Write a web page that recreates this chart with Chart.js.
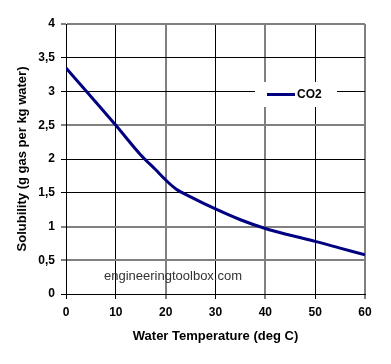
<!DOCTYPE html>
<html>
<head>
<meta charset="utf-8">
<script src="https://cdn.jsdelivr.net/npm/chart.js@4"></script>
<style>
  html, body { margin: 0; padding: 0; background: #fff; }
  #wrap { width: 391px; height: 364px; position: relative; }
</style>
</head>
<body>
<div id="wrap"><canvas id="chart"></canvas></div>
<script>
// Water temperature (deg C) and CO2 solubility (g gas per kg water)
const temps = [0, 10, 15, 18, 20, 22, 25, 30, 35, 40, 45, 50, 55, 60];
const co2 = [3.35, 2.50, 2.06, 1.84, 1.69, 1.56, 1.44, 1.26, 1.10, 0.97, 0.87, 0.78, 0.68, 0.58];
const seriesName = 'CO2';
const watermark = 'engineeringtoolbox.com';

const FONT = '"Liberation Sans", Arial, sans-serif';

// some grid lines in the original come out heavier/grey
const greyX = [20, 40, 60];
const greyY = [0.5, 1, 2.5, 4];

function gridColor(list) {
    return ctx => (ctx.tick && list.includes(ctx.tick.value)) ? '#808080' : '#000000';
}
function gridWidth(list) {
    return ctx => (ctx.tick && list.includes(ctx.tick.value)) ? 2 : 1;
}

// legend box + watermark drawn over the plot
const overlay = {
    id: 'overlay',
    afterDatasetsDraw(chart) {
        const ctx = chart.ctx;
        const ds = chart.data.datasets[0];
        ctx.save();
        ctx.fillStyle = '#ffffff';
        ctx.fillRect(255, 82, 82, 25);
        ctx.strokeStyle = ds.borderColor;
        ctx.lineWidth = 3;
        ctx.beginPath();
        ctx.moveTo(267, 94.5);
        ctx.lineTo(295, 94.5);
        ctx.stroke();
        ctx.fillStyle = '#000';
        ctx.font = 'bold 12px ' + FONT;
        ctx.textBaseline = 'middle';
        ctx.fillText(ds.label, 297, 95);

        ctx.font = '13px ' + FONT;
        ctx.fillStyle = '#333';
        ctx.textBaseline = 'alphabetic';
        ctx.fillText(watermark, 104, 280);
        ctx.restore();
    }
};

new Chart(document.getElementById('chart').getContext('2d'), {
    type: 'line',
    data: {
        datasets: [{
            label: seriesName,
            data: temps.map((t, i) => ({ x: t, y: co2[i] })),
            borderColor: '#000080',
            borderWidth: 3,
            pointRadius: 0,
            fill: false,
            cubicInterpolationMode: 'monotone'
        }]
    },
    options: {
        responsive: true,
        maintainAspectRatio: false,
        animation: false,
        layout: { padding: { left: 0, right: 26, top: 24, bottom: 0 } },
        plugins: {
            legend: { display: false },
            tooltip: { enabled: false }
        },
        scales: {
            x: {
                type: 'linear',
                min: 0,
                max: 60,
                afterFit: s => { s.height = 70; },
                ticks: {
                    stepSize: 10,
                    padding: 6,
                    color: '#000',
                    font: { family: FONT, size: 12, weight: 'bold' }
                },
                grid: {
                    color: gridColor(greyX),
                    lineWidth: gridWidth(greyX),
                    tickLength: 5
                },
                border: { color: '#000', width: 1 },
                title: {
                    display: true,
                    text: 'Water Temperature (deg C)',
                    color: '#000',
                    font: { family: FONT, size: 13, weight: 'bold' },
                    padding: { top: 0, bottom: 20 }
                }
            },
            y: {
                min: 0,
                max: 4,
                afterFit: s => { s.width = 66; },
                ticks: {
                    stepSize: 0.5,
                    padding: 6,
                    color: '#000',
                    font: { family: FONT, size: 12, weight: 'bold' },
                    callback: v => String(v).replace('.', ',')
                },
                grid: {
                    color: gridColor(greyY),
                    lineWidth: gridWidth(greyY),
                    tickLength: 5
                },
                border: { color: '#000', width: 1 },
                title: {
                    display: true,
                    text: 'Solubility (g gas per kg water)',
                    color: '#000',
                    font: { family: FONT, size: 13, weight: 'bold' },
                    padding: { top: 15, bottom: 0 }
                }
            }
        }
    },
    plugins: [overlay]
});
</script>
</body>
</html>
